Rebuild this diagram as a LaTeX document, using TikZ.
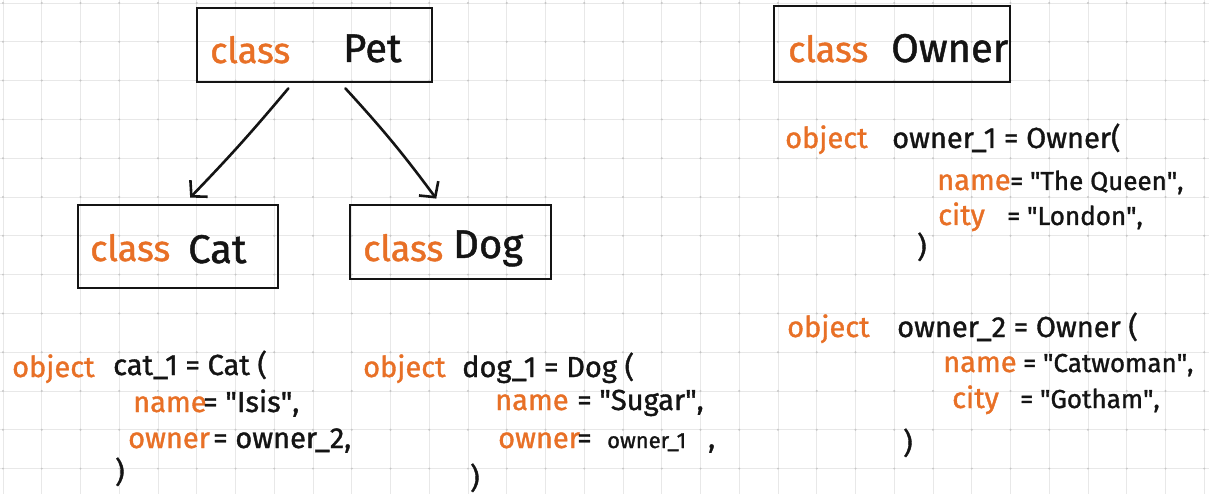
\documentclass[tikz,border=0pt]{standalone}
\usepackage{fontspec}
\setmainfont{Fira Sans}
\newfontfamily\hand{Fira Sans}[FakeBold=1.2]
\usetikzlibrary{arrows.meta,calc}
\definecolor{pen}{RGB}{232,112,38}
\definecolor{ink}{RGB}{20,20,20}
\definecolor{gridline}{RGB}{232,232,232}
\definecolor{griddot}{RGB}{198,198,198}
\newcommand{\qq}{\textquotedbl}
\tikzset{
  classbox/.style={draw=ink, line width=2.8pt, inner sep=0pt},
  kw/.style={text=pen, anchor=base west, inner sep=0pt, font=\hand\fontsize{29}{31}\selectfont},
  code/.style={text=ink, anchor=base west, inner sep=0pt, font=\hand\fontsize{29}{31}\selectfont},
  narrow/.style={code, font=\hand\fontsize{26}{28}\selectfont},
  small/.style={code, font=\hand\fontsize{22}{24}\selectfont},
  clskw/.style={kw, font=\hand\fontsize{36}{40}\selectfont},
  clsname/.style={code, font=\hand\fontsize{40}{44}\selectfont},
  inherit/.style={draw=ink, line width=2.6pt, line cap=round, line join=round, -{Straight Barb[length=11pt,width=24pt]}},
}
\begin{document}
\begin{tikzpicture}[x=1pt,y=-1pt]
\useasboundingbox (0,0) rectangle (1209,494);
\fill[white] (0,0) rectangle (1209,494);
% grid paper
\foreach \i in {0,...,31} \draw[gridline, line width=0.9pt] ({3+38.75*\i},0) -- ({3+38.75*\i},494);
\foreach \j in {0,...,12} \draw[gridline, line width=0.9pt] (0,{3+38.8*\j}) -- (1209,{3+38.8*\j});
\foreach \i in {0,...,31} \foreach \j in {0,...,12} \fill[griddot] ({3+38.75*\i},{3+38.8*\j}) circle (1.1pt);

% class boxes
\node[classbox, minimum width=235pt, minimum height=74pt] (pet) at (314.5,45) {};
\node[classbox, minimum width=200pt, minimum height=83pt] (cat) at (178,246.5) {};
\node[classbox, minimum width=201pt, minimum height=74pt] (dog) at (450.5,242) {};
\node[classbox, minimum width=236pt, minimum height=76pt] (owner) at (892,44) {};

\node[clskw] (petkw) at (210,63) {class};
\node[clsname] (petname) at (343,62) {Pet};
\node[clskw] (catkw) at (90,261) {class};
\node[clsname] (catname) at (188,263) {Cat};
\node[clskw] (dogkw) at (363,261) {class};
\node[clsname] (dogname) at (453,258) {Dog};
\node[clskw] (ownerkw) at (788,62) {class};
\node[clsname] (ownername) at (891,62) {Owner};

% inheritance arrows
\draw[inherit] ($(pet.south west)!0.39!(pet.south east)+(0,5)$) to[bend left=2] ($(cat.north west)!0.56!(cat.north east)+(0,-6)$);
\draw[inherit] ($(pet.south west)!0.63!(pet.south east)+(0,5)$) to[bend left=3] ($(dog.north west)!0.43!(dog.north east)+(0,-5)$);

% cat_1
\node[kw] (c0k) at (12,377) {object};
\node[code] (c0c) at (113,375) {cat\_1 = Cat (};
\node[kw] (c1k) at (133,412) {name};
\node[code] (c1c) at (203,412) {= \qq Isis\qq,};
\node[kw] (c2k) at (128,448) {owner};
\node[code] (c2c) at (213,448) {= owner\_2,};
\node[code] (c3c) at (115,482) {)};

% dog_1
\node[kw] (d0k) at (363,377) {object};
\node[code] (d0c) at (462,377) {dog\_1 = Dog (};
\node[kw] (d1k) at (495,410) {name};
\node[code] (d1c) at (577,410) {= \qq Sugar\qq,};
\node[kw] (d2k) at (498,448) {owner};
\node[code] (d2e) at (577,448) {=};
\node[small] (d2c) at (607,448) {owner\_1};
\node[code] (d2d) at (708,448) {,};
\node[code] (d3c) at (470,488) {)};

% owner_1
\node[kw] (o0k) at (785,148) {object};
\node[code] (o0c) at (892,148) {owner\_1 = Owner(};
\node[kw] (o1k) at (937,190) {name};
\node[narrow] (o1c) at (1010,190) {= \qq The Queen\qq,};
\node[kw] (o2k) at (938,225) {city};
\node[narrow] (o2c) at (1007,225) {= \qq London\qq,};
\node[code] (o3c) at (917,257) {)};

% owner_2
\node[kw] (p0k) at (787,337) {object};
\node[code] (p0c) at (897,337) {owner\_2 = Owner (};
\node[kw] (p1k) at (943,372) {name};
\node[narrow] (p1c) at (1023,372) {= \qq Catwoman\qq,};
\node[kw] (p2k) at (952,408) {city};
\node[narrow] (p2c) at (1020,408) {= \qq Gotham\qq,};
\node[code] (p3c) at (903,453) {)};
\end{tikzpicture}
\end{document}
